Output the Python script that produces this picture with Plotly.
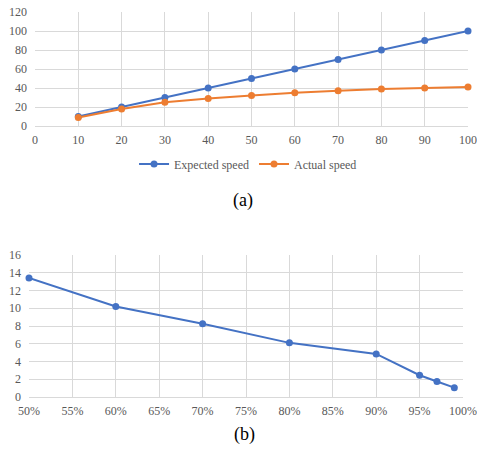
import plotly.graph_objects as go

# Chart (a)
speed_x = [10, 20, 30, 40, 50, 60, 70, 80, 90, 100]
expected_speed = [10, 20, 30, 40, 50, 60, 70, 80, 90, 100]
actual_speed = [9, 18, 25, 29, 32, 35, 37, 39, 40, 41]

# Chart (b)
ratio_x = [0.50, 0.60, 0.70, 0.80, 0.90, 0.95, 0.97, 0.99]
ratio_y = [13.4, 10.2, 8.25, 6.1, 4.85, 2.45, 1.75, 1.05]

W, H = 477, 458
BLUE = "#4472C4"
ORANGE = "#ED7D31"
GRID = "#D9D9D9"
TICK = "#595959"
FONT = "'Liberation Serif', 'Times New Roman', serif"

fig = go.Figure()
fig.add_trace(go.Scatter(x=speed_x, y=expected_speed, name="Expected speed",
                         mode="lines+markers", line=dict(color=BLUE, width=2),
                         marker=dict(size=7, color=BLUE), xaxis="x", yaxis="y",
                         cliponaxis=False))
fig.add_trace(go.Scatter(x=speed_x, y=actual_speed, name="Actual speed",
                         mode="lines+markers", line=dict(color=ORANGE, width=2),
                         marker=dict(size=7, color=ORANGE), xaxis="x", yaxis="y",
                         cliponaxis=False))
fig.add_trace(go.Scatter(x=ratio_x, y=ratio_y, name="b", showlegend=False,
                         mode="lines+markers", line=dict(color=BLUE, width=2),
                         marker=dict(size=7, color=BLUE), xaxis="x2", yaxis="y2",
                         cliponaxis=False))

def px_x(a, b):
    return [a / W, b / W]

def px_y(top, bottom):
    return [(H - bottom) / H, (H - top) / H]

tickfont = dict(family=FONT, size=12, color=TICK)
xcommon = dict(showgrid=True, gridcolor=GRID, gridwidth=1, zeroline=False,
               showline=True, linecolor=GRID, ticks="", tickfont=tickfont,
               automargin=False, ticklabelstandoff=3)
ycommon = dict(showgrid=True, gridcolor=GRID, gridwidth=1, zeroline=False,
               showline=False, ticks="", tickfont=tickfont,
               automargin=False, ticklabelstandoff=7)

fig.update_layout(
    width=W, height=H,
    margin=dict(l=0, r=0, t=0, b=0),
    paper_bgcolor="white", plot_bgcolor="white",
    font=dict(family=FONT, color=TICK),
    xaxis=dict(domain=px_x(35, 468), range=[0, 100], dtick=10, anchor="y", **xcommon),
    yaxis=dict(domain=px_y(12, 126), range=[0, 120], dtick=20, anchor="x", **ycommon),
    xaxis2=dict(domain=px_x(29, 463), range=[0.5, 1.0], dtick=0.05, tickformat=".0%",
                anchor="y2", **xcommon),
    yaxis2=dict(domain=px_y(255, 397), range=[0, 16], dtick=2, anchor="x2", **ycommon),
    legend=dict(orientation="h", x=0.52, xanchor="center", y=(H - 164) / H, yanchor="middle",
                font=dict(family=FONT, size=12, color=TICK), itemwidth=30,
                bgcolor="rgba(0,0,0,0)"),
    showlegend=True,
    annotations=[
        dict(text="(a)", x=243 / W, y=(H - 200) / H, xref="paper", yref="paper",
             showarrow=False, font=dict(family=FONT, size=18, color="black")),
        dict(text="(b)", x=245 / W, y=(H - 447) / H, xref="paper", yref="paper",
             showarrow=False, font=dict(family=FONT, size=18, color="black")),
    ],
)

fig.write_html("out.html", config={"displayModeBar": False},
               post_script="document.body.style.margin='0';document.body.style.overflow='hidden';")
